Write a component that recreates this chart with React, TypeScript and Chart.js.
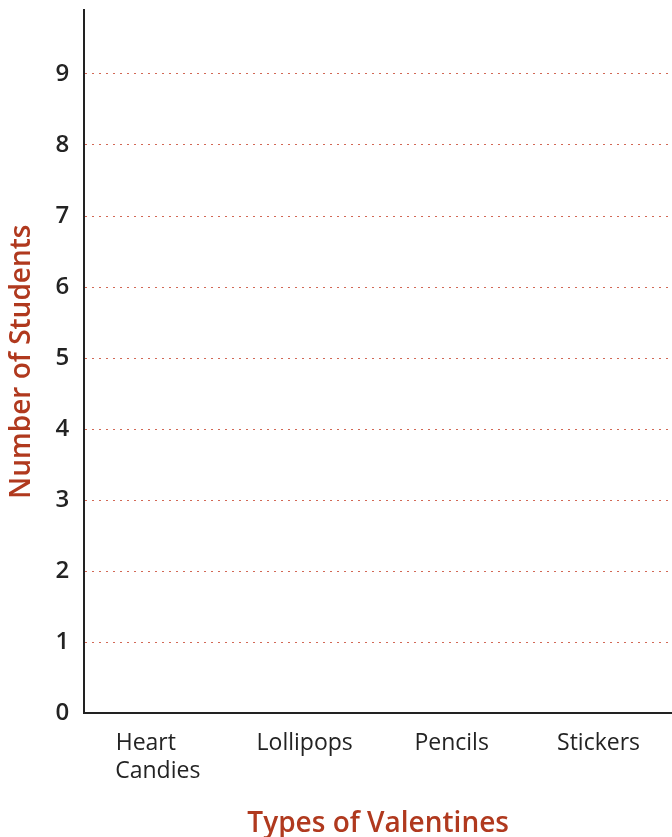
import React, { useEffect, useRef } from "react";
import { Chart, registerables } from "chart.js";

Chart.register(...registerables);

const categories: (string | string[])[] = [["Heart    ", "Candies"], "Lollipops", "Pencils", "Stickers"];
const studentCounts: (number | null)[] = [null, null, null, null];
const yMin = 0;
const yMax = 9.9;
const yStep = 1;

const FONT = "'Open Sans', sans-serif";
const TITLE_COLOR = "#b0391e";
const TEXT_COLOR = "#232323";

export default function App() {
  const ref = useRef<HTMLCanvasElement | null>(null);
  useEffect(() => {
    if (!ref.current) return;
    const chart = new Chart(ref.current, {
      type: "bar",
      data: {
        labels: categories,
        datasets: [
          {
            label: "Number of Students",
            data: studentCounts,
            backgroundColor: TITLE_COLOR,
          },
        ],
      },
      options: {
        animation: false,
        responsive: false,
        maintainAspectRatio: false,
        layout: { padding: { top: 10, left: 5, right: 0, bottom: -4 } },
        plugins: {
          legend: { display: false },
          tooltip: { enabled: false },
        },
        scales: {
          x: {
            type: "category",
            offset: true,
            grid: { display: false, drawTicks: false },
            border: { display: true, color: "#222", width: 2 },
            ticks: {
              color: TEXT_COLOR,
              padding: 16,
              font: { family: FONT, size: 23, lineHeight: 1.22 },
              maxRotation: 0,
              autoSkip: false,
            },
            title: {
              display: true,
              text: "Types of Valentines",
              color: TITLE_COLOR,
              font: { family: FONT, size: 28, weight: "600", lineHeight: 1.2 },
              padding: { top: 6, bottom: 0 },
            },
          },
          y: {
            type: "linear",
            min: yMin,
            max: yMax,
            afterBuildTicks: (scale: any) => {
              scale.ticks = scale.ticks.filter((t: any) => Number.isInteger(t.value));
            },
            afterFit: (scale: any) => {
              scale.paddingTop = 0;
            },
            ticks: {
              stepSize: yStep,
              color: TEXT_COLOR,
              padding: 15,
              font: { family: FONT, size: 24, weight: "600", lineHeight: 0.8 },
            },
            grid: {
              drawTicks: false,
              color: "rgba(205, 88, 66, 0.9)",
              lineWidth: 1,
            },
            border: { display: true, color: "#222", width: 2, dash: [2, 5] } as any,
            title: {
              display: true,
              text: "Number of Students",
              color: TITLE_COLOR,
              font: { family: FONT, size: 28, weight: "600", lineHeight: 1.2 },
              padding: { top: 0, bottom: 2 },
            },
          },
        },
      },
    });
    return () => chart.destroy();
  }, []);
  return (
    <div style={{ position: "absolute", left: 0, top: 0, width: 672, height: 837, background: "#fff" }}>
      <canvas ref={ref} width={672} height={837} style={{ display: "block" }} />
    </div>
  );
}
